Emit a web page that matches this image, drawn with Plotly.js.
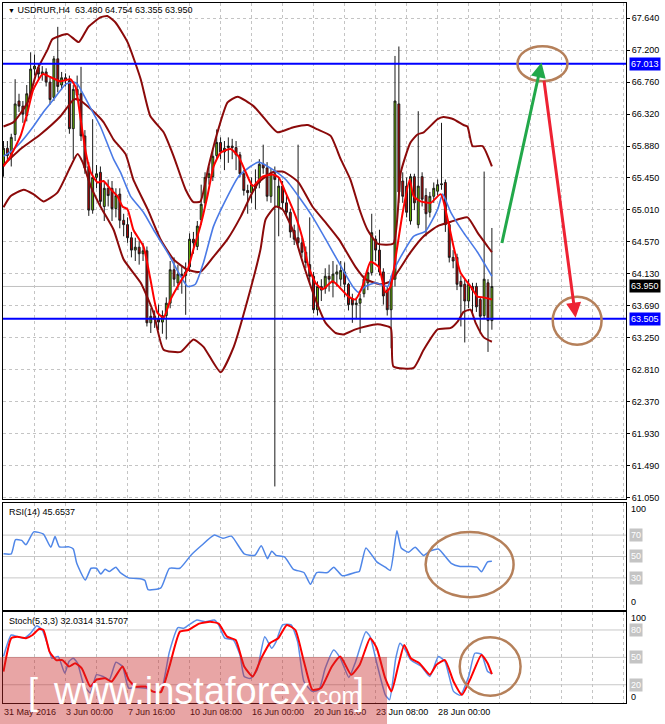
<!DOCTYPE html>
<html><head><meta charset="utf-8">
<script src="https://cdn.plot.ly/plotly-3.0.1.min.js"></script>
<style>html,body{margin:0;padding:0;background:#fff}#chart{width:665px;height:724px}</style>
</head><body><div id="chart"></div>
<script>
// ---- Candles (H4 bars, index 0 = 31 May 2016) ----
const openP = [65.62,65.85,65.75,66.04,66.50,66.43,66.30,66.60,66.94,66.96,
66.87,66.90,66.76,66.55,67.08,66.72,66.82,66.78,66.12,66.66,
66.60,66.02,65.60,65.00,65.45,65.52,65.05,65.30,65.30,65.02,
65.22,64.86,64.80,64.62,64.45,64.49,64.40,64.44,63.45,63.54,
63.50,63.46,63.55,63.72,64.18,64.00,64.12,64.10,64.22,64.60,
64.50,64.87,65.10,65.45,65.46,65.75,65.93,65.80,65.86,65.88,
65.86,65.76,65.50,65.27,65.24,65.35,65.38,65.63,65.58,65.19,
65.50,65.05,65.33,65.10,64.97,64.72,64.62,64.55,64.42,64.25,
64.09,63.63,63.95,63.92,64.09,64.00,64.12,64.05,64.15,63.98,
63.78,63.70,63.72,63.85,64.00,64.14,64.60,64.45,64.15,63.90,
63.63,64.05,66.46,65.40,65.33,64.85,65.46,64.80,65.46,65.20,
64.97,65.19,65.26,65.35,65.38,64.80,64.35,64.35,64.02,63.98,
63.75,63.95,63.95,63.77,63.55,64.00,63.48];
const highP = [65.95,65.95,66.05,66.80,66.60,66.50,66.72,67.17,67.14,67.02,
66.98,66.95,66.82,67.12,67.52,66.90,66.88,66.85,66.72,66.85,
66.97,66.10,65.66,66.25,65.62,65.60,65.40,65.42,65.40,65.30,
65.30,64.95,64.90,64.70,64.62,64.58,64.55,64.50,63.65,63.62,
63.70,63.62,63.80,64.30,64.35,64.25,64.22,64.28,64.68,64.70,
64.85,65.35,65.52,65.60,65.85,66.11,66.00,65.95,66.00,65.98,
65.95,65.80,65.55,65.35,65.45,65.56,65.70,65.90,65.66,65.58,
65.60,65.45,65.40,65.20,65.02,64.80,65.90,64.62,64.50,64.90,
64.15,64.02,64.05,64.20,64.25,64.30,64.25,64.30,64.28,64.00,
63.85,63.80,63.85,64.10,64.20,64.95,64.65,64.73,64.20,63.95,
64.10,67.12,67.25,65.52,65.45,65.50,65.50,66.36,65.52,65.30,
65.25,65.38,65.42,66.20,65.42,64.85,64.45,64.40,64.10,64.05,
64.05,64.00,64.00,63.80,65.53,64.05,64.754];
const lowP = [65.46,65.68,65.60,65.95,66.35,66.20,66.22,66.55,66.85,66.80,
66.78,66.70,66.45,66.50,66.62,66.65,66.70,66.05,65.70,66.50,
65.95,65.50,64.92,64.95,65.30,65.05,64.85,65.05,64.85,64.90,
64.75,64.64,64.55,64.35,64.30,64.25,64.30,63.40,63.31,63.38,
63.35,63.30,63.22,63.65,63.95,63.90,63.85,63.56,64.15,64.40,
64.45,64.80,65.05,65.35,65.40,65.70,65.70,65.55,65.65,65.70,
65.55,65.45,65.20,64.95,65.10,65.01,65.30,65.50,65.12,65.10,
61.20,64.64,65.00,64.90,64.62,64.52,64.48,64.35,64.20,64.00,
63.58,63.55,63.75,63.85,63.88,63.80,63.95,63.95,63.80,63.62,
63.45,63.50,63.31,63.80,63.90,64.10,64.30,64.10,63.70,63.55,
63.10,63.95,65.10,65.10,64.90,64.80,65.00,64.75,65.05,64.64,
64.90,65.10,65.20,65.28,64.70,64.28,64.20,63.90,63.40,63.18,
63.65,63.55,63.60,63.30,63.50,63.05,63.355];
const closeP = [65.85,65.75,66.00,66.46,66.43,66.32,66.60,66.94,66.98,66.87,
66.90,66.76,66.52,67.08,66.70,66.82,66.78,66.12,66.66,66.58,
66.02,65.58,65.00,65.45,65.50,65.12,65.30,65.20,65.02,65.20,
64.86,64.80,64.62,64.45,64.49,64.40,64.44,63.45,63.54,63.50,
63.46,63.55,63.72,64.18,64.05,64.12,64.10,64.15,64.60,64.55,
64.78,65.08,65.45,65.50,65.74,65.93,65.80,65.85,65.88,65.86,
65.76,65.50,65.27,65.24,65.35,65.30,65.63,65.58,65.19,65.50,
65.42,65.33,65.10,64.97,64.70,64.60,64.55,64.42,64.28,64.09,
63.63,63.95,63.90,64.09,64.05,64.12,64.15,64.17,63.98,63.70,
63.70,63.72,63.78,64.05,64.14,64.69,64.45,64.15,63.82,63.63,
64.05,66.50,65.25,65.19,64.97,65.46,65.10,65.33,65.15,64.95,
65.19,65.30,65.35,65.36,64.80,64.35,64.30,63.98,63.95,63.75,
63.98,63.90,63.67,63.54,64.05,63.48,63.95];

// ---- Indicator lines: [bar, value] ----
const bbUpper = [[0,66.15],[2.6,66.21],[6.2,66.48],[8.8,66.94],[11.4,67.21],[12.6,67.35],[16.5,67.42],[19.4,67.31],[21.9,67.52],[25,67.65],[26.8,67.67],[28.9,67.58],[32,67.31],[35.4,66.80],[37.9,66.29],[41.3,66.07],[43.9,65.74],[47,65.28],[49,65.11],[50.8,65.12],[52.9,65.60],[55.2,66.07],[57.8,66.48],[60.4,66.56],[64.5,66.43],[68.1,66.21],[70.7,66.07],[74.8,66.14],[78.5,66.17],[81,66.11],[84.4,66.02],[87,65.70],[89.5,65.42],[92.1,64.97],[93.9,64.73],[96.5,64.54],[100.6,64.54],[102.5,65.52],[105,65.93],[106.8,66.04],[108.4,66.07],[112,66.25],[113.5,66.28],[116.1,66.25],[118.7,66.17],[119.7,66.15],[121,65.88],[123.6,65.88],[126,65.60]];
const bbMiddle = [[0,65.62],[4.4,65.84],[9.5,66.04],[14.7,66.29],[18.1,66.52],[19.4,66.52],[22.5,66.39],[25.8,66.21],[28.4,65.97],[31.5,65.77],[33.5,65.42],[37.2,65.01],[40.5,64.60],[43.9,64.32],[47.5,64.18],[50.8,64.15],[54.2,64.36],[57.8,64.60],[61.2,64.91],[63.7,65.19],[65.8,65.38],[69.4,65.52],[72,65.53],[73.5,65.49],[76.1,65.38],[79.7,65.05],[83.1,64.83],[86.5,64.60],[90.8,64.22],[93.4,64.05],[97.3,63.98],[99.9,64.02],[105,64.42],[108.4,64.64],[112,64.78],[115.4,64.84],[119.7,64.90],[122.3,64.69],[124.9,64.50],[126,64.42]];
const bbLower = [[0,65.04],[1.8,65.19],[5.2,65.28],[7.7,65.22],[10.3,65.12],[13.9,65.24],[17.3,65.60],[19.1,65.77],[20.4,65.66],[22.5,65.33],[25,65.05],[28.4,64.73],[31,64.32],[35.4,64.00],[38.7,63.59],[41.3,63.08],[45.7,63.05],[49,63.22],[51.6,63.12],[56,62.77],[59.4,63.12],[63,63.77],[66.3,64.46],[67.6,64.87],[70.2,65.05],[72,65.01],[74.6,64.73],[77.2,64.28],[80.5,63.77],[83.1,63.45],[85.7,63.31],[87.7,63.29],[90.8,63.36],[93.4,63.40],[96.5,63.43],[99.9,63.38],[100.6,62.85],[105.8,62.83],[108.4,63.08],[112,63.36],[115.4,63.38],[117.2,63.47],[118.7,63.60],[120.5,63.63],[121.8,63.45],[123.9,63.25],[126,63.19]];
const maSlow = [[0,65.74],[1.8,65.80],[4.4,65.93],[7.7,66.15],[10.3,66.35],[12.9,66.52],[16,66.73],[18.1,66.76],[19.1,66.73],[21.7,66.48],[25,66.15],[28.4,65.70],[30.2,65.52],[31.5,65.35],[32.8,65.19],[36.1,64.97],[38.7,64.73],[42.3,64.42],[45.7,64.09],[47.5,63.95],[49.5,63.98],[51.6,64.28],[54.2,64.78],[57.8,65.19],[60.6,65.46],[63.7,65.60],[65.8,65.66],[69.4,65.56],[72.8,65.42],[76.1,65.19],[79.7,64.91],[83.1,64.60],[86.5,64.28],[90.1,63.95],[91.6,63.87],[93.4,63.95],[96,64.00],[99.1,63.95],[100.4,64.14],[102.5,64.36],[105.8,64.64],[108.9,64.71],[112,65.01],[113.3,65.22],[115.4,64.97],[118.7,64.69],[122.3,64.42],[126,64.09]];
const maFast = [[0,65.60],[1.8,65.74],[4.4,66.02],[6.2,66.35],[7.7,66.66],[10.1,66.87],[12.1,66.83],[14.7,66.77],[17.3,66.80],[18.6,66.69],[19.9,66.25],[21.2,65.80],[22.5,65.52],[24.3,65.38],[25.8,65.40],[27.6,65.29],[29.4,65.19],[30.7,65.05],[32,65.01],[33.5,64.73],[36.1,64.50],[37.9,64.05],[39.7,63.59],[41.3,63.52],[43.1,63.77],[45.7,64.02],[47.5,64.18],[49,64.46],[50.8,64.78],[52.6,65.19],[54.2,65.60],[56,65.79],[58.6,65.84],[60.6,65.74],[62.5,65.52],[64.3,65.33],[66.8,65.46],[69.4,65.49],[71,65.45],[72.8,65.24],[75.4,64.91],[77.2,64.60],[78.7,64.22],[80.5,64.00],[82.3,63.91],[84.9,64.02],[86.5,63.95],[89,63.81],[90.8,63.77],[92.6,63.95],[94.7,64.29],[96.8,64.22],[98.6,63.87],[99.9,63.95],[101.2,64.36],[103,64.97],[104.8,65.42],[105.8,65.19],[107.6,65.12],[110.2,65.10],[112.8,65.22],[114.6,64.87],[116.1,64.50],[117.9,64.14],[120.5,63.95],[122.3,63.81],[123.9,63.80],[126,63.77]];
const rsi14 = [[0,52.5],[2,52.5],[3.1,65.7],[4.7,65],[5.8,61],[7.8,73],[10.3,71],[12.2,58.6],[13.3,68.6],[14.4,59],[16.9,59],[18,57],[18.9,43.6],[21.1,28],[22.6,39],[24,39],[25.1,33.6],[26.2,38],[27.3,36],[29,40],[30.1,35],[32.3,30],[35.6,29],[36.5,27.5],[37.3,19],[40.6,20.7],[42.8,39],[45.5,39],[48.3,51],[51,60],[54.4,70],[56.6,67],[58.8,69],[62.1,52.5],[64.8,51],[66.5,60],[68.1,48],[69.2,55],[70.3,51],[72.5,49.6],[74.8,38],[77.5,35],[79.2,24],[80.8,35],[83.6,35],[85.2,40],[87.4,32],[90.7,35],[91.8,36],[93.5,58],[96.3,45],[98.5,40],[99.8,37],[101.5,74],[102.6,58],[104.5,54],[106.2,58.6],[108.4,51],[110,55],[112.2,57],[115.5,43.6],[117.8,40.7],[120.5,40.7],[122.2,40],[123.3,35.7],[124.9,45],[126,45.65]];
const stochMain = [[0,51],[2,74.5],[3.6,72.7],[5.3,71],[6.9,76],[8.6,84.7],[10,80],[11.4,63.6],[12.5,49],[14.1,51],[15.8,32.7],[16.9,45.5],[18,49],[19.1,43.6],[20.7,20],[22.4,11],[24,31],[25.7,29],[27.3,25.5],[29,44.7],[30.7,40],[32.3,16.4],[34.5,17],[37.3,15.6],[38.9,12],[40.6,12.7],[42.8,56],[45,82.5],[46.6,82],[48.3,87],[49.9,91],[52.1,89],[54.4,91],[55.5,85.5],[57.1,71],[59.3,69],[61,52.7],[62.1,29],[63.7,27],[65.4,36],[67.4,72.7],[69.2,60],[70.3,67],[72,85.5],[74.2,85.5],[75.9,67],[77.5,23.6],[79.7,12.7],[81.4,14.5],[83,38],[85.2,58],[86.9,49],[89.1,28],[90.7,43.6],[93.5,78],[94.6,72.7],[96.3,43.6],[98.5,9],[99.6,3.6],[101.2,49],[102.3,65.5],[103.4,60],[105.1,47],[107.8,40],[110,29],[112.2,51],[113.9,45.5],[116.1,12.7],[117.8,8.4],[120,29],[121.6,54.5],[123.3,53.5],[124.9,34.5],[126,32.03]];
const stochSignal = [[0,34.5],[2,71],[3.6,72.7],[5.8,71],[7.5,74.5],[9.2,81],[10.3,80],[11.9,56],[13.6,47],[15.2,47],[16.9,40],[18.5,43.6],[20.2,38],[22.4,18],[24,25.5],[26.2,27],[27.9,23.6],[30.7,40],[32.3,25.5],[34,18],[36.7,18],[38.4,12.7],[40.6,12],[42.8,40],[45.5,78],[47.7,80],[50.5,87],[53.3,89],[55.5,87],[57.7,72.7],[59.9,69],[62.1,40],[64.3,29],[66.5,49],[68.7,65.5],[70.9,71],[73.1,85.5],[75.3,80],[77.5,45.5],[79.7,14.5],[81.9,16.4],[84.7,40],[86.9,51],[89.7,31],[91.9,42],[94.6,71],[96.3,60],[98.5,27],[100.1,12.7],[101.8,40],[103.4,63.6],[105.1,49],[107.3,43.6],[110,31],[111.7,42],[113.9,47],[116.1,23.6],[118.3,9],[120.5,27],[123.3,52.7],[124.9,43.6],[126,31.57]];

// ---- Axis labels & levels ----
const priceTickVals = [67.64,67.20,66.76,66.32,65.88,65.45,65.01,64.57,64.13,63.69,63.25,62.81,62.37,61.93,61.49,61.05];
const priceTickText = ['67.640','67.200','66.760','66.320','65.880','65.450','65.010','64.570','64.130','63.690','63.250','62.810','62.370','61.930','61.490','61.050'];
const timeLabelBars = [0,16,32,48,64,80,96,112];
const timeLabels = ['31 May 2016','3 Jun 00:00','7 Jun 16:00','10 Jun 08:00','16 Jun 00:00','20 Jun 16:00','23 Jun 08:00','28 Jun 00:00'];
const resistance = 67.013, support = 63.505, lastPrice = 63.950;
const rsiLevels = [70,50,30];
const stochLevels = [80,50,20];

const bars = openP.map((_, i) => i);
const xRange = [-0.13, 160.6];
const gridBars = []; for (let b = 0; b <= 160; b += 8) gridBars.push(b);
const gridText = gridBars.map(b => { const k = timeLabelBars.indexOf(b); return k >= 0 ? timeLabels[k] : ''; });
const px = a => a.map(p => p[0]), py = a => a.map(p => p[1]);
const FONT = 'Liberation Sans, Arial, sans-serif';

function line(data, color, width, xa, ya) {
  return {type:'scatter', mode:'lines', x:px(data), y:py(data), xaxis:xa, yaxis:ya,
    line:{color:color, width:width, shape:'spline', smoothing:0.5}, hoverinfo:'skip'};
}
const traces = [
  {type:'candlestick', x:bars, open:openP, high:highP, low:lowP, close:closeP, xaxis:'x', yaxis:'y',
   increasing:{line:{color:'#1a1a1a', width:1}, fillcolor:'#66b800'},
   decreasing:{line:{color:'#1a1a1a', width:1}, fillcolor:'#c00000'}, hoverinfo:'skip'},
  line(bbUpper, '#8b0a0a', 2, 'x', 'y'),
  line(bbMiddle, '#8b0a0a', 2, 'x', 'y'),
  line(bbLower, '#8b0a0a', 2, 'x', 'y'),
  line(maSlow, '#4a7ae6', 1.6, 'x', 'y'),
  line(maFast, '#ff0000', 2, 'x', 'y'),
  line(rsi14, '#4f86e8', 1.5, 'x2', 'y2'),
  line(stochMain, '#5b8ee8', 1.5, 'x3', 'y3'),
  line(stochSignal, '#ff0000', 2, 'x3', 'y3')
];

const baseX = {range:xRange, tickmode:'array', tickvals:gridBars, ticktext:gridBars.map(()=>''), ticks:'',
  showgrid:true, gridcolor:'#c4c4c4', griddash:'3px,3px', gridwidth:1, showline:true, mirror:true,
  linecolor:'#000', linewidth:1, zeroline:false, fixedrange:true, rangeslider:{visible:false}};
const baseY = {side:'right', showline:true, mirror:true, linecolor:'#000', linewidth:1, zeroline:false, fixedrange:true};

const shapes = [];
shapes.push({type:'line', xref:'paper', x0:0, x1:1, yref:'y', y0:lastPrice, y1:lastPrice, line:{color:'#c0c0c0', width:1}, layer:'below'});
rsiLevels.forEach(v => shapes.push({type:'line', xref:'paper', x0:0, x1:1, yref:'y2', y0:v, y1:v, line:{color:'#c8c8c8', width:1}, layer:'below'}));
stochLevels.forEach(v => shapes.push({type:'line', xref:'paper', x0:0, x1:1, yref:'y3', y0:v, y1:v, line:{color:'#c8c8c8', width:1}, layer:'below'}));
[resistance, support].forEach(v => shapes.push({type:'line', xref:'paper', x0:0, x1:1, yref:'y', y0:v, y1:v, line:{color:'#0000ff', width:2}}));
const brown = '#b5805a';
shapes.push({type:'circle', xref:'x', yref:'y', x0:132.6, x1:145.5, y0:66.772, y1:67.254, line:{color:brown, width:2.5}});
shapes.push({type:'circle', xref:'x', yref:'y', x0:141.7, x1:154.3, y0:63.15, y1:63.81, line:{color:brown, width:2.5}});
shapes.push({type:'circle', xref:'x2', yref:'y2', x0:108.9, x1:131.6, y0:12, y1:73, line:{color:brown, width:2.5}});
shapes.push({type:'circle', xref:'x3', yref:'y3', x0:117.7, x1:133.4, y0:8, y1:72, line:{color:brown, width:2.5}});
shapes.push({type:'rect', xref:'paper', yref:'paper', x0:-0.01, x1:0.6164, y0:-0.04, y1:0.0657, fillcolor:'rgba(200,40,40,0.42)', line:{width:0}, layer:'above'});

const ann = [];
const rightLabel = (text, yref, y, bg, color) => ann.push({text:text, xref:'paper', x:1, xanchor:'left', xshift:3, yref:yref, y:y, yanchor:'middle', showarrow:false, bgcolor:bg, borderpad:1, font:{family:FONT, size:9, color:color}});
rightLabel('67.013', 'y', resistance, '#0000ff', '#ffffff');
rightLabel('63.505', 'y', support, '#0000ff', '#ffffff');
rightLabel('63.950', 'y', lastPrice, '#000000', '#ffffff');
rightLabel('100', 'y2', 94.4, 'rgba(0,0,0,0)', '#000');
rsiLevels.forEach(v => rightLabel(String(v), 'y2', v, '#c4c4c4', '#ffffff'));
rightLabel('0', 'y2', 7.2, 'rgba(0,0,0,0)', '#000');
rightLabel('100', 'y3', 92.7, 'rgba(0,0,0,0)', '#000');
stochLevels.forEach(v => rightLabel(String(v), 'y3', v, '#c4c4c4', '#ffffff'));
rightLabel('0', 'y3', 6.5, 'rgba(0,0,0,0)', '#000');

ann.push({text:'<span style="font-size:7px">▼</span> USDRUR,H4  63.480 64.754 63.355 63.950', xref:'paper', x:0.005, xanchor:'left', yref:'paper', y:0.9905, yanchor:'middle', showarrow:false, font:{family:FONT, size:9, color:'#000'}});
ann.push({text:'RSI(14) 45.6537', xref:'paper', x:0.006, xanchor:'left', yref:'y2', y:92, yanchor:'middle', showarrow:false, font:{family:FONT, size:9, color:'#000'}});
ann.push({text:'Stoch(5,3,3) 32.0314 31.5707', xref:'paper', x:0.006, xanchor:'left', yref:'y3', y:90, yanchor:'middle', showarrow:false, font:{family:FONT, size:9, color:'#000'}});

ann.push({text:'', x:138.8, y:67.03, xref:'x', yref:'y', ax:128.5, ay:64.527, axref:'x', ayref:'y', showarrow:true, arrowhead:2, arrowsize:1, arrowwidth:3, arrowcolor:'#22a84a', standoff:0});
ann.push({text:'', x:147.6, y:63.52, xref:'x', yref:'y', ax:139.4, ay:66.80, axref:'x', ayref:'y', showarrow:true, arrowhead:2, arrowsize:1, arrowwidth:3, arrowcolor:'#ee2233', standoff:0});

ann.push({text:'[', xref:'paper', x:0.037, xanchor:'left', yref:'paper', y:0.017, yanchor:'middle', showarrow:false, font:{family:FONT, size:36, color:'#ffffff'}});
ann.push({text:'www.instaforex<span style="font-size:24px">.com</span>', xref:'paper', x:0.077, xanchor:'left', yref:'paper', y:0.017, yanchor:'middle', showarrow:false, font:{family:FONT, size:38, color:'#ffffff'}});
ann.push({text:']', xref:'paper', x:0.56, xanchor:'left', yref:'paper', y:0.017, yanchor:'middle', showarrow:false, font:{family:FONT, size:36, color:'#ffffff'}});

const layout = {
  width:665, height:724, margin:{l:3, r:39, t:3, b:21}, paper_bgcolor:'#ffffff', plot_bgcolor:'#ffffff',
  showlegend:false, font:{family:FONT, size:9, color:'#000'},
  xaxis:Object.assign({}, baseX, {domain:[0,1], anchor:'y'}),
  yaxis:Object.assign({}, baseY, {domain:[0.2914,1], anchor:'x', range:[61.027,67.848], tickmode:'array', tickvals:priceTickVals, ticktext:priceTickText, ticks:'outside', ticklen:3, tickcolor:'#000', showgrid:true, gridcolor:'#c4c4c4', griddash:'3px,3px', tickfont:{family:FONT, size:9, color:'#000'}}),
  xaxis2:Object.assign({}, baseX, {domain:[0,1], anchor:'y2'}),
  yaxis2:Object.assign({}, baseY, {domain:[0.1329,0.2857], anchor:'x2', range:[0,100], showticklabels:false, ticks:'', showgrid:false}),
  xaxis3:Object.assign({}, baseX, {domain:[0,1], anchor:'y3', ticktext:gridText, ticklabelposition:'outside right', tickfont:{family:FONT, size:9, color:'#000'}}),
  yaxis3:Object.assign({}, baseY, {domain:[0,0.1304], anchor:'x3', range:[0,100], showticklabels:false, ticks:'', showgrid:false}),
  shapes:shapes, annotations:ann
};
Plotly.newPlot('chart', traces, layout, {staticPlot:true, displayModeBar:false});
</script></body></html>
